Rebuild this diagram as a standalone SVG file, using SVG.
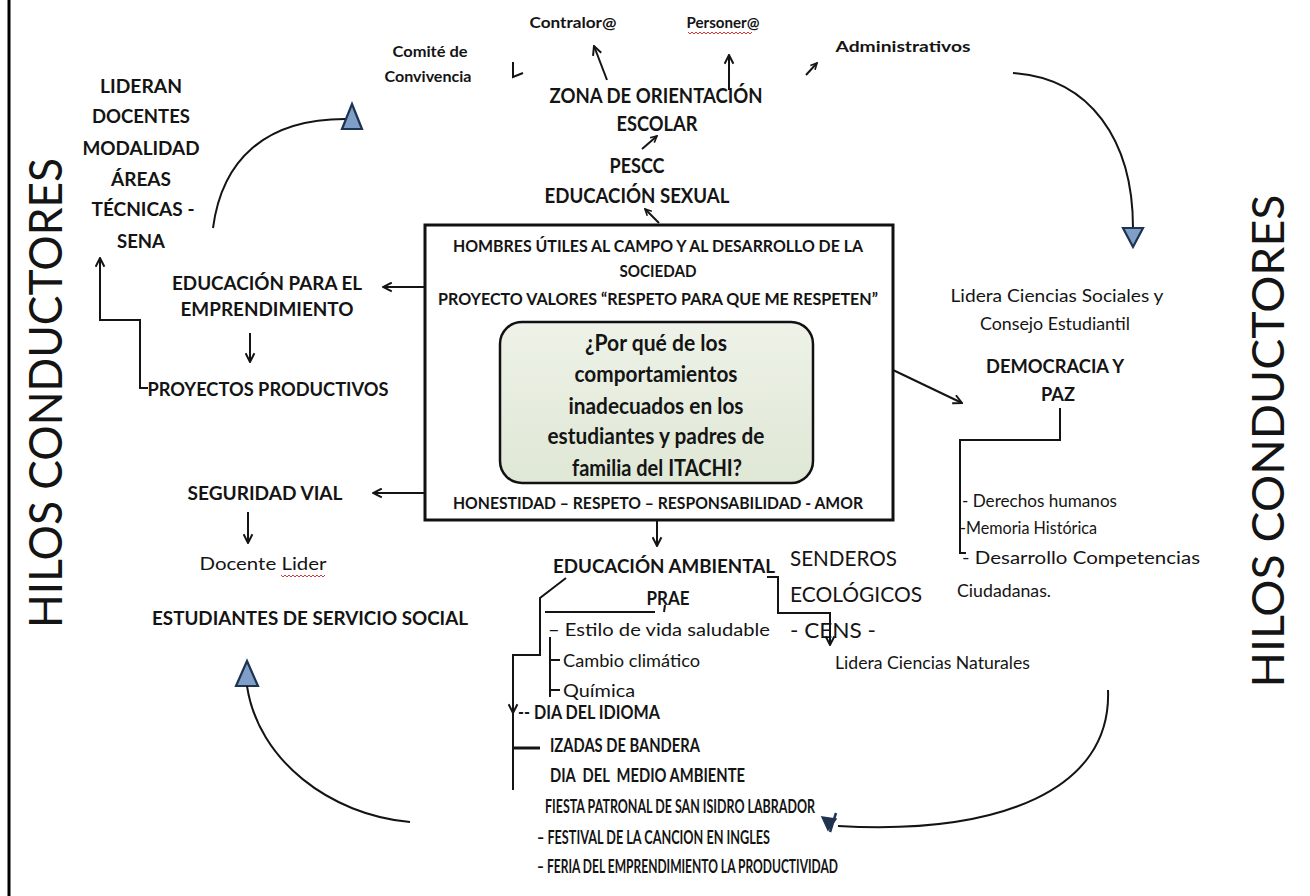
<svg xmlns="http://www.w3.org/2000/svg" width="1310" height="896" viewBox="0 0 1310 896">
<style>
.t{font-family:Lato,"Noto Sans","Liberation Sans",sans-serif;fill:#141414;dominant-baseline:central}
.b{font-weight:700}
.c{text-anchor:middle}
.ln{fill:none;stroke:#141414;stroke-width:2}
.tri{fill:#7f9fc8;stroke:#1e3450;stroke-width:2.2}
.sq{fill:none;stroke:#d23a3a;stroke-width:1}
.pre{white-space:pre}
</style>
<defs>
<marker id="ah" viewBox="0 0 10 10" refX="9" refY="5" markerWidth="11" markerHeight="11" markerUnits="userSpaceOnUse" orient="auto">
<path d="M1,1 L9,5 L1,9" fill="none" stroke="#141414" stroke-width="1.8"/>
</marker>
<marker id="as" viewBox="0 0 10 10" refX="9" refY="5" markerWidth="8" markerHeight="8" markerUnits="userSpaceOnUse" orient="auto">
<path d="M1,1 L9,5 L1,9" fill="none" stroke="#141414" stroke-width="2"/>
</marker>
<linearGradient id="gq" x1="0" y1="0" x2="0" y2="1">
<stop offset="0" stop-color="#eef2e8"/>
<stop offset="1" stop-color="#dfe7d5"/>
</linearGradient>
</defs>
<rect width="1310" height="896" fill="#fff"/>
<line x1="9" y1="0" x2="9" y2="896" stroke="#000" stroke-width="3"/>

<g id="hilos-left"><text class="t c" transform="translate(44,393) rotate(-90)" font-size="46" textLength="470" lengthAdjust="spacingAndGlyphs">HILOS CONDUCTORES</text></g>
<g id="hilos-right"><text class="t c" transform="translate(1267,441) rotate(-90)" font-size="44" textLength="493" lengthAdjust="spacingAndGlyphs">HILOS CONDUCTORES</text></g>

<g id="node-contralor"><text class="t b c" x="573" y="22" font-size="15" textLength="87" lengthAdjust="spacingAndGlyphs">Contralor@</text></g>
<g id="node-personer"><text class="t b c" x="723" y="22" font-size="15" textLength="73" lengthAdjust="spacingAndGlyphs">Personer@</text>
<path class="sq" d="M688,32 l2,2 2,-2 2,2 2,-2 2,2 2,-2 2,2 2,-2 2,2 2,-2 2,2 2,-2 2,2 2,-2 2,2 2,-2 2,2 2,-2 2,2 2,-2 2,2 2,-2 2,2 2,-2 2,2 2,-2 2,2 2,-2 2,2 2,-2 2,2 2,-2"/></g>
<g id="node-comite"><text class="t b c" x="430" y="51" font-size="15" textLength="75" lengthAdjust="spacingAndGlyphs">Comité de</text>
<text class="t b c" x="428" y="76" font-size="15" textLength="87" lengthAdjust="spacingAndGlyphs">Convivencia</text></g>
<g id="node-admin"><text class="t b c" x="903" y="46" font-size="15" textLength="135" lengthAdjust="spacingAndGlyphs">Administrativos</text></g>
<g id="node-zona"><text class="t b c" x="656" y="95" font-size="20" textLength="213" lengthAdjust="spacingAndGlyphs">ZONA DE ORIENTACIÓN</text>
<text class="t b c" x="657" y="123" font-size="20" textLength="81" lengthAdjust="spacingAndGlyphs">ESCOLAR</text></g>
<g id="node-pescc"><text class="t b c" x="637" y="165" font-size="20" textLength="55" lengthAdjust="spacingAndGlyphs">PESCC</text>
<text class="t b c" x="637" y="195" font-size="20" textLength="185" lengthAdjust="spacingAndGlyphs">EDUCACIÓN SEXUAL</text></g>

<g id="node-lideran">
<text class="t b c" x="141" y="85" font-size="19" textLength="82" lengthAdjust="spacingAndGlyphs">LIDERAN</text>
<text class="t b c" x="141" y="115" font-size="19" textLength="98" lengthAdjust="spacingAndGlyphs">DOCENTES</text>
<text class="t b c" x="141" y="147" font-size="19" textLength="117" lengthAdjust="spacingAndGlyphs">MODALIDAD</text>
<text class="t b c" x="141" y="178" font-size="19" textLength="60" lengthAdjust="spacingAndGlyphs">ÁREAS</text>
<text class="t b c" x="143" y="208" font-size="19" textLength="103" lengthAdjust="spacingAndGlyphs">TÉCNICAS -</text>
<text class="t b c" x="141" y="240" font-size="19" textLength="48" lengthAdjust="spacingAndGlyphs">SENA</text>
</g>
<g id="node-emprendimiento">
<text class="t b c" x="267" y="282" font-size="19" textLength="190" lengthAdjust="spacingAndGlyphs">EDUCACIÓN PARA EL</text>
<text class="t b c" x="267" y="308" font-size="19" textLength="173" lengthAdjust="spacingAndGlyphs">EMPRENDIMIENTO</text>
</g>
<g id="node-proyectos"><text class="t b c" x="268" y="388" font-size="19" textLength="241" lengthAdjust="spacingAndGlyphs">PROYECTOS PRODUCTIVOS</text></g>
<g id="node-seguridad"><text class="t b c" x="265" y="492" font-size="19" textLength="155" lengthAdjust="spacingAndGlyphs">SEGURIDAD VIAL</text></g>
<g id="node-docente"><text class="t c" x="263" y="563" font-size="18" textLength="127" lengthAdjust="spacingAndGlyphs">Docente Lider</text>
<path class="sq" d="M281,575 l2,2 2,-2 2,2 2,-2 2,2 2,-2 2,2 2,-2 2,2 2,-2 2,2 2,-2 2,2 2,-2 2,2 2,-2 2,2 2,-2 2,2 2,-2 2,2 2,-2"/></g>
<g id="node-estudiantes"><text class="t b c" x="310" y="617" font-size="19" textLength="316" lengthAdjust="spacingAndGlyphs">ESTUDIANTES DE SERVICIO SOCIAL</text></g>

<g id="node-central">
<rect x="425" y="225" width="468" height="295" fill="#fff" stroke="#111" stroke-width="3"/>
<text class="t b c" x="658" y="245" font-size="17" textLength="410" lengthAdjust="spacingAndGlyphs">HOMBRES ÚTILES AL CAMPO Y AL DESARROLLO DE LA</text>
<text class="t b c" x="658" y="270" font-size="17" textLength="77" lengthAdjust="spacingAndGlyphs">SOCIEDAD</text>
<text class="t b c" x="658" y="298" font-size="17" textLength="440" lengthAdjust="spacingAndGlyphs">PROYECTO VALORES “RESPETO PARA QUE ME RESPETEN”</text>
<rect x="500" y="322" width="313" height="161" rx="22" fill="url(#gq)" stroke="#111" stroke-width="2.5"/>
<text class="t b c" x="656" y="342" font-size="22" textLength="142" lengthAdjust="spacingAndGlyphs">¿Por qué de los</text>
<text class="t b c" x="656" y="373" font-size="22" textLength="163" lengthAdjust="spacingAndGlyphs">comportamientos</text>
<text class="t b c" x="656" y="405" font-size="22" textLength="175" lengthAdjust="spacingAndGlyphs">inadecuados en los</text>
<text class="t b c" x="656" y="435" font-size="22" textLength="217" lengthAdjust="spacingAndGlyphs">estudiantes y padres de</text>
<text class="t b c" x="657" y="467" font-size="22" textLength="170" lengthAdjust="spacingAndGlyphs">familia del ITACHI?</text>
<text class="t b c" x="658" y="502" font-size="17" textLength="410" lengthAdjust="spacingAndGlyphs">HONESTIDAD – RESPETO – RESPONSABILIDAD - AMOR</text>
</g>

<g id="node-sociales">
<text class="t c" x="1057" y="295" font-size="18" textLength="213" lengthAdjust="spacingAndGlyphs">Lidera Ciencias Sociales y</text>
<text class="t c" x="1055" y="323" font-size="18" textLength="150" lengthAdjust="spacingAndGlyphs">Consejo Estudiantil</text>
</g>
<g id="node-democracia">
<text class="t b c" x="1055" y="366" font-size="18" textLength="138" lengthAdjust="spacingAndGlyphs">DEMOCRACIA Y</text>
<text class="t b c" x="1058" y="394" font-size="18" textLength="34" lengthAdjust="spacingAndGlyphs">PAZ</text>
</g>
<g id="node-derechos">
<text class="t" x="962" y="500" font-size="18" textLength="155" lengthAdjust="spacingAndGlyphs">- Derechos humanos</text>
<text class="t" x="960" y="527" font-size="18" textLength="137" lengthAdjust="spacingAndGlyphs">-Memoria Histórica</text>
<text class="t" x="962" y="557" font-size="18" textLength="238" lengthAdjust="spacingAndGlyphs">- Desarrollo Competencias</text>
<text class="t" x="957" y="590" font-size="18" textLength="94" lengthAdjust="spacingAndGlyphs">Ciudadanas.</text>
</g>

<g id="node-ambiental"><text class="t b" x="553" y="565" font-size="19" textLength="222" lengthAdjust="spacingAndGlyphs">EDUCACIÓN AMBIENTAL</text></g>
<g id="node-senderos">
<text class="t" x="790" y="557" font-size="22" textLength="107" lengthAdjust="spacingAndGlyphs">SENDEROS</text>
<text class="t" x="790" y="593" font-size="22" textLength="132" lengthAdjust="spacingAndGlyphs">ECOLÓGICOS</text>
<text class="t" x="790" y="629" font-size="22" textLength="86" lengthAdjust="spacingAndGlyphs">- CENS -</text>
</g>
<g id="node-naturales"><text class="t" x="835" y="662" font-size="18" textLength="195" lengthAdjust="spacingAndGlyphs">Lidera Ciencias Naturales</text></g>
<g id="node-prae">
<text class="t b c" x="668" y="598" font-size="18" textLength="43" lengthAdjust="spacingAndGlyphs">PRAE</text>
<text class="t" x="548" y="629" font-size="18" textLength="222" lengthAdjust="spacingAndGlyphs">– Estilo de vida saludable</text>
<text class="t" x="563" y="660" font-size="18" textLength="137" lengthAdjust="spacingAndGlyphs">Cambio climático</text>
<text class="t" x="563" y="690" font-size="18" textLength="72" lengthAdjust="spacingAndGlyphs">Química</text>
</g>
<g id="node-eventos">
<text class="t b" x="518" y="712" font-size="18" textLength="142" lengthAdjust="spacingAndGlyphs">-- DIA DEL IDIOMA</text>
<text class="t b" x="550" y="745" font-size="18" textLength="150" lengthAdjust="spacingAndGlyphs">IZADAS DE BANDERA</text>
<text class="t b pre" x="550" y="775" font-size="18" textLength="195" lengthAdjust="spacingAndGlyphs">DIA  DEL  MEDIO AMBIENTE</text>
<text class="t b" x="545" y="806" font-size="18" textLength="270" lengthAdjust="spacingAndGlyphs">FIESTA PATRONAL DE SAN ISIDRO LABRADOR</text>
<text class="t b" x="537" y="837" font-size="18" textLength="233" lengthAdjust="spacingAndGlyphs">– FESTIVAL DE LA CANCION EN INGLES</text>
<text class="t b" x="537" y="866" font-size="18" textLength="301" lengthAdjust="spacingAndGlyphs">– FERIA DEL EMPRENDIMIENTO LA PRODUCTIVIDAD</text>
</g>

<g id="connectors">
<path class="ln" d="M213,228 C222,160 265,119 345,119"/>
<polygon class="tri" points="352,104 362,129 342,129"/>
<path class="ln" d="M1013,73 C1090,78 1133,140 1133,228"/>
<polygon class="tri" points="1123,228 1143,228 1133,247"/>
<polygon class="tri" points="247,661 258,686 236,686"/>
<path class="ln" d="M247,686 C258,760 330,815 410,822"/>
<path class="ln" d="M1108,690 C1112,790 1000,835 838,826"/>
<polygon points="822,817 836,819 828,830" fill="#1e3450" stroke="#1e3450" stroke-width="1.5"/>
<line x1="836" y1="813" x2="830" y2="832" stroke="#1e3450" stroke-width="2.5"/>
<path class="ln" d="M513,62 V77 L523,73" stroke-width="2.5"/>
<line class="ln" x1="607" y1="80" x2="594" y2="46" marker-end="url(#ah)"/>
<line class="ln" x1="729" y1="90" x2="729" y2="55" marker-end="url(#ah)"/>
<line class="ln" x1="806" y1="75" x2="817" y2="63" marker-end="url(#as)"/>
<line class="ln" x1="642" y1="149" x2="657" y2="136" marker-end="url(#as)"/>
<line class="ln" x1="659" y1="223" x2="645" y2="209" marker-end="url(#as)"/>
<line class="ln" x1="425" y1="287" x2="383" y2="287" marker-end="url(#ah)"/>
<line class="ln" x1="250" y1="333" x2="250" y2="362" marker-end="url(#ah)"/>
<path class="ln" d="M148,388 H140 V320 H100 V258" marker-end="url(#ah)"/>
<line class="ln" x1="425" y1="493" x2="373" y2="493" marker-end="url(#ah)"/>
<line class="ln" x1="248" y1="512" x2="248" y2="543" marker-end="url(#ah)"/>
<line class="ln" x1="893" y1="370" x2="962" y2="403" marker-end="url(#ah)"/>
<path class="ln" d="M1060,408 V440 H960 V553 H966"/>
<line class="ln" x1="657" y1="520" x2="657" y2="546" marker-end="url(#ah)"/>
<path class="ln" d="M767,577 H778 V613 H830 V645" marker-end="url(#ah)"/>
<path class="ln" d="M566,578 L540,598 V655 H513 V713" marker-end="url(#ah)"/>
<line class="ln" x1="513" y1="713" x2="513" y2="790"/>
<line x1="513" y1="748" x2="540" y2="748" stroke="#141414" stroke-width="3"/>
<line class="ln" x1="545" y1="612" x2="655" y2="612"/>
<line class="ln" x1="665" y1="605" x2="664" y2="612" stroke-width="1.5"/>
<path class="ln" d="M550,637 V697 M550,660 H560 M550,690 H560"/>
</g>
</svg>
